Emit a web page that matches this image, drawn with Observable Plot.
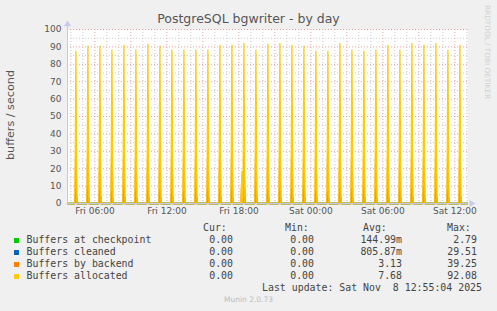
<!DOCTYPE html>
<html><head><meta charset="utf-8">
<script src="https://cdn.jsdelivr.net/npm/d3@7"></script>
<script src="https://cdn.jsdelivr.net/npm/@observablehq/plot@0.6"></script>
<style>
html,body{margin:0;padding:0;background:#F0F0F0;}
#wrap{position:relative;width:497px;height:311px;overflow:hidden;font-family:"DejaVu Sans",sans-serif;}
#chart{position:absolute;left:0;top:0;}
.abs{position:absolute;white-space:pre;}
.mono{font-family:"DejaVu Sans Mono",monospace;font-size:9.9px;color:#444;line-height:12px;}
.r{text-align:right;width:120px;}
.sw{position:absolute;width:5px;height:5px;}
</style></head>
<body><div id="wrap"><div id="chart"></div></div>
<script>
// ---- data ----
const seriesNames = ["Buffers at checkpoint","Buffers cleaned","Buffers by backend","Buffers allocated"];
const seriesColors = ["#00CC00","#0066B3","#FF8000","#FFCC00"];
const spikeTimes = [
 "2025-11-07T04:25","2025-11-07T05:25","2025-11-07T06:25","2025-11-07T07:25","2025-11-07T08:25",
 "2025-11-07T09:25","2025-11-07T10:25","2025-11-07T11:25","2025-11-07T12:25","2025-11-07T13:25",
 "2025-11-07T14:25","2025-11-07T15:25","2025-11-07T16:25","2025-11-07T17:25","2025-11-07T18:15",
 "2025-11-07T18:25","2025-11-07T19:25","2025-11-07T20:25","2025-11-07T21:25","2025-11-07T22:25",
 "2025-11-07T23:25","2025-11-08T00:25","2025-11-08T01:25","2025-11-08T02:25","2025-11-08T03:25",
 "2025-11-08T04:25","2025-11-08T05:25","2025-11-08T06:25","2025-11-08T07:25","2025-11-08T08:25",
 "2025-11-08T09:25","2025-11-08T10:25","2025-11-08T11:25","2025-11-08T12:25"];
const checkpoint = [1.5,2.0,1.8,1.4,2.2,1.6,1.9,1.5,1.7,1.4,1.8,1.6,2.0,1.7,0,2.79,1.8,1.6,1.9,1.5,2.0,1.4,1.3,1.8,1.6,1.9,1.7,1.8,1.6,1.9,2.1,1.8,1.5,2.0];
const cleaned = [8.2,9.8,9.8,7.3,10.1,8.2,9.8,8.2,8.2,7.3,9.2,9.2,9.2,9.2,0,29.51,13.4,8.6,9.2,9.2,10.7,7.8,6.7,9.2,8.6,9.8,8.6,9.2,9.2,9.2,9.8,9.2,7.8,10.1];
const backend = [37,38,36,37,39.25,36,38,37,36,37,38,37,38,37,16,24,38,37,38,37,36,37,38,37,36,37,38,37,36,38,37,38,36,37];
const allocated = [87.6,90.4,90.4,88.1,91.0,88.1,91.6,90.4,88.1,88.1,88.1,88.1,91.0,91.0,18.4,92.08,88.1,91.6,92.0,91.0,90.4,87.6,87.6,92.0,88.1,87.6,88.1,91.0,88.1,92.0,91.0,92.0,88.1,91.0];
const legendCur = ["0.00","0.00","0.00","0.00"];
const legendMin = ["0.00","0.00","0.00","0.00"];
const legendAvg = ["144.99m","805.87m","3.13","7.68"];
const legendMax = ["2.79","29.51","39.25","92.08"];
const yTicks = [0,10,20,30,40,50,60,70,80,90,100];
const yMinor = [5,15,25,35,45,55,65,75,85,95];
const startTime = "2025-11-07T03:43";
const endTime = "2025-11-08T13:03";
const titleText = "PostgreSQL bgwriter - by day";
const yLabelText = "buffers / second";
const lastUpdate = "Last update: Sat Nov  8 12:55:04 2025";
const footer = "Munin 2.0.73";
const sideText = "RRDTOOL / TOBI OETIKER";

// ---- build ----
const parse = s => new Date(s + ":00Z");
const t0 = parse(startTime), t1 = parse(endTime);
const step = 5 * 60 * 1000;
const times = spikeTimes.map(parse);
function build(vals) {
  const pts = [{t: t0, v: 0}];
  times.forEach((t, i) => {
    if (vals[i] > 0) {
      pts.push({t: new Date(+t - step), v: 0});
      pts.push({t: t, v: vals[i]});
      pts.push({t: new Date(+t + step), v: 0});
    }
  });
  pts.push({t: t1, v: 0});
  pts.sort((a, b) => a.t - b.t);
  return pts;
}
const series = [checkpoint, cleaned, backend, allocated].map(build);

const hours = d3.utcHour.range(t0, t1);
const minorX = hours.filter(d => d.getUTCHours() % 3 !== 0);
const majorX = d3.utcHour.every(3).range(t0, t1);
const labelX = d3.utcHour.every(6).range(t0, t1);

const dash = "1,2";
const plot = Plot.plot({
  width: 497, height: 215,
  marginTop: 29, marginBottom: 12, marginLeft: 67, marginRight: 30,
  style: {background: "transparent", color: "#555", fontSize: "9px", fontFamily: "DejaVu Sans"},
  x: {type: "utc", domain: [t0, t1], ticks: labelX, tickFormat: d3.utcFormat("%a %H:%M"), tickSize: 0, tickPadding: 4, label: null},
  y: {domain: [0, 100], ticks: yTicks, tickSize: 0, tickPadding: 6, label: null},
  marks: [
    Plot.frame({fill: "white", stroke: "none"}),
    Plot.ruleX(minorX, {stroke: "#c8c8c8", strokeDasharray: dash}),
    Plot.ruleY(yMinor, {stroke: "#c8c8c8", strokeDasharray: dash}),
    Plot.ruleX(majorX, {stroke: "#eaa0a0", strokeDasharray: dash}),
    Plot.ruleY(yTicks.filter(d => d > 0), {stroke: "#eaa0a0", strokeDasharray: dash}),
    ...series.map((s, i) => Plot.line(s, {x: "t", y: "v", stroke: seriesColors[i], strokeWidth: 1.3})),
    Plot.ruleY([0], {stroke: "#c8c8d8"}),
    Plot.ruleX([t0], {stroke: "#c8c8e0", y1: 0, y2: 103}),
    Plot.dot([t0], {x: d => d, y: 103, symbol: "triangle", r: 2.6, fill: "#c8c8f0", stroke: "none"}),
    Plot.dot([t1], {x: d => d, y: 0, dx: 4, symbol: "triangle", rotate: 90, r: 2.6, fill: "#c8c8f0", stroke: "none"})
  ]
});
const wrap = document.getElementById("wrap");
document.getElementById("chart").appendChild(plot);

function add(html, cls, style) {
  const d = document.createElement("div");
  d.className = "abs " + (cls || "");
  d.textContent = html;
  Object.assign(d.style, style);
  wrap.appendChild(d);
  return d;
}
add(titleText, "", {left: "0px", width: "497px", textAlign: "center", top: "11px", fontSize: "12.5px", color: "#555", lineHeight: "16px"});
add(yLabelText, "", {left: "11px", top: "115px", fontSize: "11.2px", color: "#555", transform: "translate(-50%,-50%) rotate(-90deg)", lineHeight: "14px"});
add(sideText, "", {left: "491px", top: "5px", fontSize: "7.3px", color: "#d0d0d0", transformOrigin: "0 0", transform: "rotate(90deg)", lineHeight: "8px"});

const rowY = [240, 252, 264, 276];
add("Cur:", "mono", {left: "203px", top: (228 - 6) + "px"});
add("Min:", "mono", {left: "285px", top: (228 - 6) + "px"});
add("Avg:", "mono", {left: "363px", top: (228 - 6) + "px"});
add("Max:", "mono", {left: "447px", top: (228 - 6) + "px"});
seriesNames.forEach((n, i) => {
  const sw = document.createElement("div");
  sw.className = "sw";
  Object.assign(sw.style, {left: "14px", top: (rowY[i] - 2.5) + "px", background: seriesColors[i]});
  wrap.appendChild(sw);
  add(n, "mono", {left: "26.5px", top: (rowY[i] - 6) + "px"});
  add(legendCur[i], "mono r", {left: (233 - 120) + "px", top: (rowY[i] - 6) + "px"});
  add(legendMin[i], "mono r", {left: (314 - 120) + "px", top: (rowY[i] - 6) + "px"});
  add(legendAvg[i], "mono r", {left: (402 - 120) + "px", top: (rowY[i] - 6) + "px"});
  add(legendMax[i], "mono r", {left: (477 - 120) + "px", top: (rowY[i] - 6) + "px"});
});
add(lastUpdate, "mono r", {left: (482 - 300) + "px", width: "300px", top: (288 - 6) + "px"});
add(footer, "", {left: "0px", width: "497px", textAlign: "center", top: "295px", fontSize: "7.5px", color: "#bbb", lineHeight: "10px"});
</script>
</body></html>
